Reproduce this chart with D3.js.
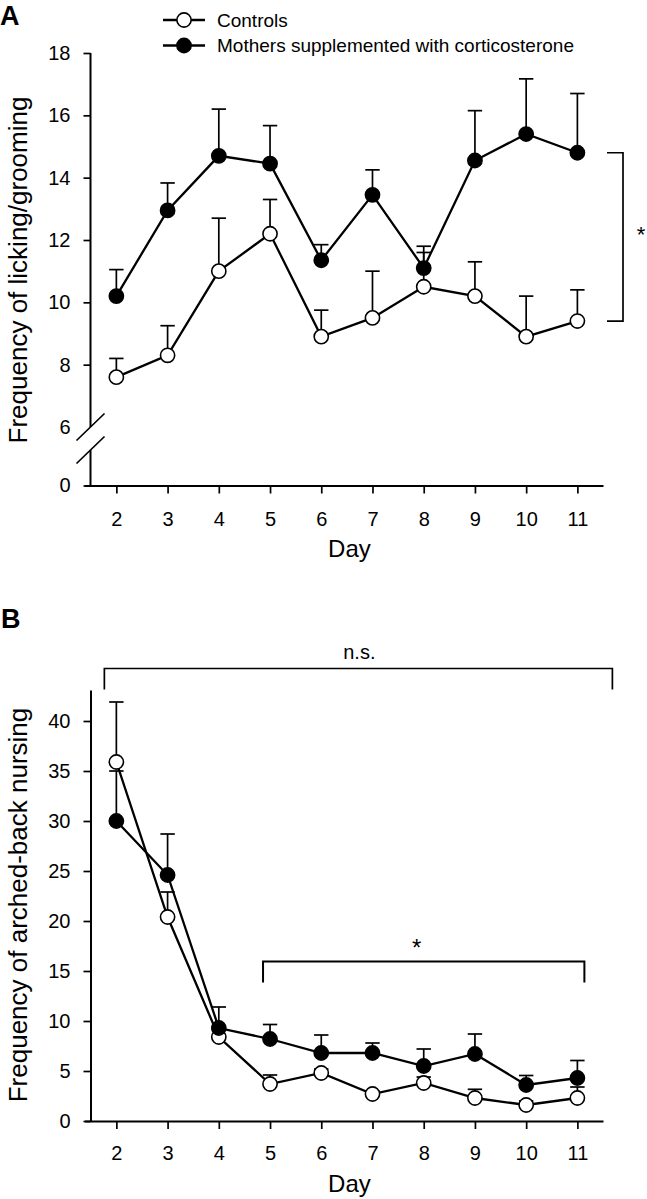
<!DOCTYPE html>
<html>
<head>
<meta charset="utf-8">
<script src="https://cdn.jsdelivr.net/npm/d3@7"></script>
<style>
  html, body { margin: 0; padding: 0; background: #fff; }
  svg { display: block; }
  text { font-family: "Liberation Sans", Arial, Helvetica, sans-serif; fill: #000; }
</style>
</head>
<body>
<script>
// ---------- data ----------
const days = [2, 3, 4, 5, 6, 7, 8, 9, 10, 11];
const seriesNames = ["Controls", "Mothers supplemented with corticosterone"];

// Panel A: licking/grooming
const lgCtrlMean = [7.6, 8.3, 11.0, 12.2, 8.9, 9.5, 10.5, 10.2, 8.9, 9.4];
const lgCtrlSem  = [0.6, 0.95, 1.7, 1.1, 0.85, 1.5, 1.1, 1.1, 1.3, 1.0];
const lgCortMean = [10.2, 12.95, 14.7, 14.45, 11.35, 13.45, 11.1, 14.55, 15.4, 14.8];
const lgCortSem  = [0.85, 0.88, 1.5, 1.22, 0.5, 0.8, 0.7, 1.6, 1.77, 1.9];
const lgTicks = [0, 6, 8, 10, 12, 14, 16, 18];

// Panel B: arched-back nursing
const abnCtrlMean = [35.9, 20.4, 8.4, 3.7, 4.8, 2.7, 3.8, 2.3, 1.6, 2.3];
const abnCtrlSem  = [6.0, 2.5, 1.0, 0.9, 0.4, 0.3, 0.6, 0.87, 0.4, 1.1];
const abnCortMean = [30.0, 24.6, 9.3, 8.2, 6.8, 6.8, 5.5, 6.7, 3.6, 4.3];
const abnCortSem  = [5.0, 4.1, 2.1, 1.45, 1.8, 1.0, 1.7, 2.0, 0.95, 1.75];
const abnTicks = [0, 5, 10, 15, 20, 25, 30, 35, 40];

const yTitleA = "Frequency of licking/grooming";
const yTitleB = "Frequency of arched-back nursing";
const xTitle = "Day";

// ---------- layout ----------
const W = 647, H = 1199;
const axisX = 90.5;
const R = 7.1;
const svg = d3.select("body").append("svg").attr("width", W).attr("height", H);

const x = d3.scaleLinear().domain([1.38, 11.5]).range([84.6, 603]);
const yA = d3.scaleLinear().domain([0, 6, 18]).range([485.5, 427, 53]);
const yB = d3.scaleLinear().domain([0, 43.1]).range([1121, 690]);

function drawPanel(g, y, ticks, ctrlM, ctrlS, cortM, cortS, o) {
  // x axis
  const xa = g.append("g")
    .attr("transform", `translate(0,${y(0)})`)
    .call(d3.axisBottom(x).tickValues(days).tickSize(8).tickSizeOuter(0).tickFormat(d3.format("d")));
  xa.select(".domain").attr("stroke-width", 2);
  xa.selectAll(".tick line").attr("stroke-width", 1.7);
  xa.selectAll(".tick text").attr("dy", null).attr("y", o.xLabOff)
    .style("font-size", "20px").style("font-family", "Liberation Sans, Arial, sans-serif");

  // y axis
  const ya = g.append("g")
    .attr("transform", `translate(${axisX},0)`)
    .call(d3.axisLeft(y).tickValues(ticks).tickSize(7).tickPadding(13).tickSizeOuter(0).tickFormat(d3.format("d")));
  ya.select(".domain").attr("stroke-width", 2);
  ya.selectAll(".tick line").attr("stroke-width", 1.7);
  ya.selectAll(".tick text").style("font-size", "20px").style("font-family", "Liberation Sans, Arial, sans-serif");
  if (o.broken) {
    ya.select(".domain").remove();
    ya.selectAll(".tick").filter(d => d === 6).select("line").remove();
    const yb = y(6);
    g.append("line").attr("x1", axisX).attr("x2", axisX).attr("y1", y(d3.max(ticks))).attr("y2", yb)
      .attr("stroke", "#000").attr("stroke-width", 2);
    g.append("line").attr("x1", axisX).attr("x2", axisX).attr("y1", yb + 23).attr("y2", y(0))
      .attr("stroke", "#000").attr("stroke-width", 2);
    [0, 23].forEach(off => {
      g.append("line").attr("x1", axisX - 14).attr("y1", yb + off + 13.5)
        .attr("x2", axisX + 14).attr("y2", yb + off - 13.5)
        .attr("stroke", "#000").attr("stroke-width", 1.7);
    });
  }

  const series = [
    { m: ctrlM, s: ctrlS, fill: "#fff" },
    { m: cortM, s: cortS, fill: "#000" }
  ];
  // error bars (upper only)
  series.forEach(sr => {
    days.forEach((d, i) => {
      const cx = x(d), top = y(sr.m[i] + sr.s[i]);
      g.append("line").attr("x1", cx).attr("x2", cx).attr("y1", y(sr.m[i])).attr("y2", top)
        .attr("stroke", "#000").attr("stroke-width", 1.7);
      g.append("line").attr("x1", cx - 7.2).attr("x2", cx + 7.2).attr("y1", top).attr("y2", top)
        .attr("stroke", "#000").attr("stroke-width", 1.7);
    });
  });
  // lines
  const line = d3.line().x((d, i) => x(days[i])).y(d => y(d));
  series.forEach(sr => {
    g.append("path").attr("d", line(sr.m)).attr("fill", "none")
      .attr("stroke", "#000").attr("stroke-width", 2.3);
  });
  // markers
  series.forEach(sr => {
    g.selectAll(null).data(sr.m).enter().append("circle")
      .attr("cx", (d, i) => x(days[i])).attr("cy", d => y(d)).attr("r", R)
      .attr("fill", sr.fill).attr("stroke", "#000").attr("stroke-width", 1.6);
  });

  // axis titles
  g.append("text").attr("x", x(6.55)).attr("y", o.xTitleY).attr("text-anchor", "middle")
    .style("font-size", "24px").text(xTitle);
  g.append("text").attr("transform", `translate(27,${o.yTitleC}) rotate(-90)`)
    .attr("text-anchor", "middle").style("font-size", "26px").text(o.yTitle);
  g.append("text").attr("x", o.letterX).attr("y", o.letterY)
    .style("font-size", "27px").style("font-weight", "bold").text(o.letter);
}

const gA = svg.append("g");
drawPanel(gA, yA, lgTicks, lgCtrlMean, lgCtrlSem, lgCortMean, lgCortSem,
  { broken: true, xLabOff: 40, xTitleY: 557, yTitleC: 270, yTitle: yTitleA, letter: "A", letterX: 0, letterY: 25 });

const gB = svg.append("g");
drawPanel(gB, yB, abnTicks, abnCtrlMean, abnCtrlSem, abnCortMean, abnCortSem,
  { broken: false, xLabOff: 39, xTitleY: 1192, yTitleC: 905, yTitle: yTitleB, letter: "B", letterX: 1, letterY: 628 });

// legend (panel A)
seriesNames.forEach((name, i) => {
  const ly = 20 + i * 25.5;
  svg.append("line").attr("x1", 163).attr("x2", 205).attr("y1", ly).attr("y2", ly)
    .attr("stroke", "#000").attr("stroke-width", 2.3);
  svg.append("circle").attr("cx", 184).attr("cy", ly).attr("r", R)
    .attr("fill", i === 0 ? "#fff" : "#000").attr("stroke", "#000").attr("stroke-width", 1.6);
  svg.append("text").attr("x", 217).attr("y", ly + 6.8).style("font-size", "19px").text(name);
});

// significance bracket panel A (day 11, between groups)
const bx = 623, bTop = yA(lgCortMean[9]), bBot = yA(lgCtrlMean[9]);
svg.append("path").attr("d", `M${bx - 16},${bTop}H${bx}V${bBot}H${bx - 16}`)
  .attr("fill", "none").attr("stroke", "#000").attr("stroke-width", 1.7);
svg.append("text").attr("x", 641).attr("y", 242).attr("text-anchor", "middle")
  .style("font-size", "22px").text("*");

// n.s. bracket panel B
const nsY = 668.5, nsL = x(2) - 12, nsR = x(11) + 35;
svg.append("path").attr("d", `M${nsL},${nsY + 21}V${nsY}H${nsR}V${nsY + 21}`)
  .attr("fill", "none").attr("stroke", "#000").attr("stroke-width", 1.7);
svg.append("text").attr("x", (nsL + nsR) / 2 + 1).attr("y", 658.5).attr("text-anchor", "middle")
  .style("font-size", "20px").text("n.s.");

// * bracket panel B (days 5-11)
const sY = 961.5, sL = x(5) - 7, sR = x(11) + 7;
svg.append("path").attr("d", `M${sL},${sY + 21}V${sY}H${sR}V${sY + 21}`)
  .attr("fill", "none").attr("stroke", "#000").attr("stroke-width", 2);
svg.append("text").attr("x", (sL + sR) / 2 - 7).attr("y", 956).attr("text-anchor", "middle")
  .style("font-size", "24px").text("*");
</script>
</body>
</html>
